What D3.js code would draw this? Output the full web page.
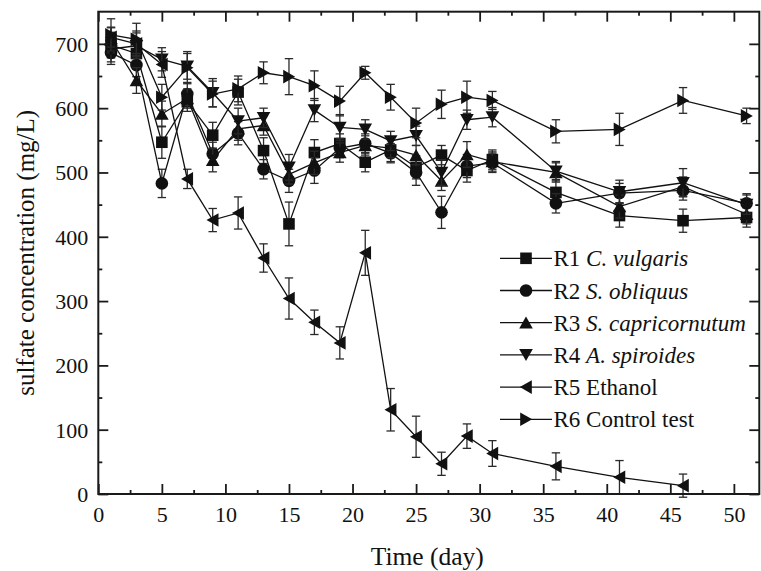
<!DOCTYPE html>
<html>
<head>
<meta charset="utf-8">
<script src="https://cdn.jsdelivr.net/npm/d3@7"></script>
<style>
	body { margin: 0; background: #fff; }
	svg { display: block; }
	svg text { font-family: "Liberation Serif", "Times New Roman", serif; }
</style>
</head>
<body>
<svg id="chart"></svg>
<script>
// sulfate concentration over time, six reactors, with error bars

const WIDTH = 761;
const HEIGHT = 571;
const margin = { left: 98.3, right: 1.7, top: 11.7, bottom: 77 };

// sampling days
const days = [1, 3, 5, 7, 9, 11, 13, 15, 17, 19, 21, 23, 25, 27, 29, 31, 36, 41, 46, 51];

// values (mg/L)
const r1 = [698, 685, 547, 610, 558, 625, 534, 420, 531, 545, 516, 535, 508, 527, 503, 520, 469, 433, 425, 430];
const r2 = [686, 667, 483, 622, 529, 561, 505, 487, 503, 538, 545, 530, 500, 438, 510, 515, 452, 468, 472, 452];
const r3 = [706, 643, 591, 615, 519, 568, 573, 497, 515, 531, 542, 538, 527, 487, 528, 517, 500, 447, 478, 435];
const r4 = [692, 697, 676, 665, 624, 580, 585, 508, 597, 570, 567, 549, 557, 500, 582, 586, 502, 470, 484, 450];
const r5 = [710, 700, 668, 490, 426, 437, 367, 304, 267, 235, 375, 131, 89, 47, 90, 63, 43, 26, 13, null];
const r6 = [714, 707, 617, 663, 622, 630, 655, 649, 635, 611, 655, 617, 577, 606, 617, 612, 564, 567, 612, 588];

// error bar half widths
const e1 = [20, 20, 25, 15, 20, 20, 20, 34, 20, 15, 15, 18, 18, 15, 18, 15, 20, 18, 18, 15];
const e2 = [18, 18, 22, 18, 18, 18, 15, 18, 20, 15, 15, 15, 20, 25, 18, 15, 15, 15, 15, 15];
const e3 = [20, 20, 20, 15, 18, 18, 15, 15, 18, 15, 15, 15, 15, 15, 20, 15, 15, 18, 15, 15];
const e4 = [20, 20, 18, 20, 22, 20, 15, 20, 18, 20, 15, 15, 15, 20, 15, 15, 15, 18, 22, 15];
const e5 = [15, 20, 20, 15, 18, 25, 22, 32, 19, 25, 35, 33, 32, 18, 19, 20, 21, 26, 18, null];
const e6 = [25, 25, 20, 25, 20, 20, 17, 28, 23, 23, 10, 20, 23, 22, 25, 14, 18, 25, 20, 12];

const seriesNames = ["R1 ", "R2 ", "R3 ", "R4 ", "R5 Ethanol", "R6 Control test"];
const seriesItalic = ["C. vulgaris", "S. obliquus", "S. capricornutum", "A. spiroides", "", ""];
const seriesSymbols = ["square", "circle", "up", "down", "left", "right"];

const xTicks = [0, 5, 10, 15, 20, 25, 30, 35, 40, 45, 50];
const yTicks = [0, 100, 200, 300, 400, 500, 600, 700];

const series = [r1, r2, r3, r4, r5, r6].map((vals, i) => ({
	name: seriesNames[i],
	italic: seriesItalic[i],
	symbol: seriesSymbols[i],
	points: days.map((d, j) => ({ day: d, value: vals[j], err: [e1, e2, e3, e4, e5, e6][i][j] }))
		.filter(p => p.value != null)
}));

const FONT = "Liberation Serif, Times New Roman, serif";
const INK = "#111";

const x = d3.scaleLinear().domain([0, 52]).range([margin.left, WIDTH - margin.right]);
const y = d3.scaleLinear().domain([0, 750]).range([HEIGHT - margin.bottom, margin.top]);

const svg = d3.select("#chart")
	.attr("width", WIDTH)
	.attr("height", HEIGHT)
	.attr("viewBox", `0 0 ${WIDTH} ${HEIGHT}`)
	.attr("font-family", FONT);

// marker shapes
function symbolPath(type) {
	if (type === "square") return "M-5.8,-5.8h11.6v11.6h-11.6Z";
	if (type === "circle") return d3.symbol(d3.symbolCircle, 125)();
	return "M0,-6.2L6.8,5.8L-6.8,5.8Z";
}
function symbolRotate(type) {
	return { up: 0, down: 180, left: -90, right: 90 }[type] || 0;
}

// plot contents
const plot = svg.append("g");

series.forEach(s => {
	const g = plot.append("g");

	// error bars
	const eb = g.append("g")
		.attr("stroke", "#2a2a2a")
		.attr("stroke-width", 1.3)
		.selectAll("g")
		.data(s.points)
		.join("g");
	eb.append("line")
		.attr("x1", d => x(d.day)).attr("x2", d => x(d.day))
		.attr("y1", d => y(d.value - d.err)).attr("y2", d => y(d.value + d.err));
	eb.append("line")
		.attr("x1", d => x(d.day) - 4.2).attr("x2", d => x(d.day) + 4.2)
		.attr("y1", d => y(d.value + d.err)).attr("y2", d => y(d.value + d.err));
	eb.append("line")
		.attr("x1", d => x(d.day) - 4.2).attr("x2", d => x(d.day) + 4.2)
		.attr("y1", d => y(d.value - d.err)).attr("y2", d => y(d.value - d.err));

	// line
	g.append("path")
		.datum(s.points)
		.attr("fill", "none")
		.attr("stroke", INK)
		.attr("stroke-width", 1.3)
		.attr("d", d3.line().x(d => x(d.day)).y(d => y(d.value)));

	// markers
	g.append("g")
		.selectAll("path")
		.data(s.points)
		.join("path")
		.attr("fill", INK)
		.attr("d", symbolPath(s.symbol))
		.attr("transform", d => `translate(${x(d.day)},${y(d.value)}) rotate(${symbolRotate(s.symbol)})`);
});

// axes
const x0 = HEIGHT - margin.bottom;
const axisStyle = g => {
	g.attr("font-family", FONT).attr("font-size", 22);
	g.select(".domain").remove();
	g.selectAll("line").attr("stroke", "#1a1a1a").attr("stroke-width", 1.8);
	g.selectAll("text").attr("fill", "#111");
};
const xMinor = d3.range(0, 52.1, 2.5).filter(v => v % 5 !== 0);
const yMinor = d3.range(50, 750, 100);

svg.append("g")
	.attr("transform", `translate(0,${x0})`)
	.call(d3.axisBottom(x).tickValues(xTicks).tickSizeInner(-10).tickSizeOuter(0).tickPadding(12))
	.call(axisStyle)
	.call(g => g.selectAll("text").attr("y", 28.3).attr("dy", null));
svg.append("g")
	.attr("transform", `translate(0,${x0})`)
	.call(d3.axisBottom(x).tickValues(xMinor).tickSizeInner(-4).tickSizeOuter(0).tickFormat(""))
	.call(axisStyle);
svg.append("g")
	.attr("transform", `translate(0,${margin.top})`)
	.call(d3.axisTop(x).tickValues(xTicks).tickSizeInner(-10).tickSizeOuter(0).tickFormat(""))
	.call(axisStyle);
svg.append("g")
	.attr("transform", `translate(0,${margin.top})`)
	.call(d3.axisTop(x).tickValues(xMinor).tickSizeInner(-4).tickSizeOuter(0).tickFormat(""))
	.call(axisStyle);

svg.append("g")
	.attr("transform", `translate(${margin.left},0)`)
	.call(d3.axisLeft(y).tickValues(yTicks).tickSizeInner(-10).tickSizeOuter(0).tickPadding(10))
	.call(axisStyle)
	.call(g => g.selectAll("text").attr("dy", "0.34em"));
svg.append("g")
	.attr("transform", `translate(${margin.left},0)`)
	.call(d3.axisLeft(y).tickValues(yMinor).tickSizeInner(-4).tickSizeOuter(0).tickFormat(""))
	.call(axisStyle);
svg.append("g")
	.attr("transform", `translate(${WIDTH - margin.right},0)`)
	.call(d3.axisRight(y).tickValues(yTicks).tickSizeInner(-10).tickSizeOuter(0).tickFormat(""))
	.call(axisStyle);
svg.append("g")
	.attr("transform", `translate(${WIDTH - margin.right},0)`)
	.call(d3.axisRight(y).tickValues(yMinor).tickSizeInner(-4).tickSizeOuter(0).tickFormat(""))
	.call(axisStyle);

// frame
svg.append("rect")
	.attr("x", margin.left)
	.attr("y", margin.top)
	.attr("width", WIDTH - margin.right - margin.left)
	.attr("height", HEIGHT - margin.bottom - margin.top)
	.attr("fill", "none")
	.attr("stroke", "#1a1a1a")
	.attr("stroke-width", 2);

// axis titles
svg.append("text")
	.attr("x", (margin.left + WIDTH - margin.right) / 2 - 1.5)
	.attr("y", 565)
	.attr("text-anchor", "middle")
	.attr("font-size", 25.5)
	.attr("fill", "#111")
	.text("Time (day)");

svg.append("text")
	.attr("transform", `translate(34,${(margin.top + HEIGHT - margin.bottom) / 2}) rotate(-90)`)
	.attr("text-anchor", "middle")
	.attr("font-size", 25)
	.attr("fill", "#111")
	.text("sulfate concentration (mg/L)");

// legend
const legend = svg.append("g")
	.selectAll("g")
	.data(series)
	.join("g")
	.attr("transform", (d, i) => `translate(500,${258.3 + i * 32.2})`);

legend.append("line")
	.attr("x1", 0).attr("x2", 52)
	.attr("stroke", INK)
	.attr("stroke-width", 1.3);
legend.append("path")
	.attr("fill", INK)
	.attr("d", d => symbolPath(d.symbol))
	.attr("transform", d => `translate(26,0) rotate(${symbolRotate(d.symbol)})`);
const lt = legend.append("text")
	.attr("x", 53.5)
	.attr("y", 8)
	.attr("font-size", 23)
	.attr("fill", "#111");
lt.append("tspan").text(d => d.name);
lt.append("tspan").attr("font-style", "italic").text(d => d.italic);
</script>
</body>
</html>
